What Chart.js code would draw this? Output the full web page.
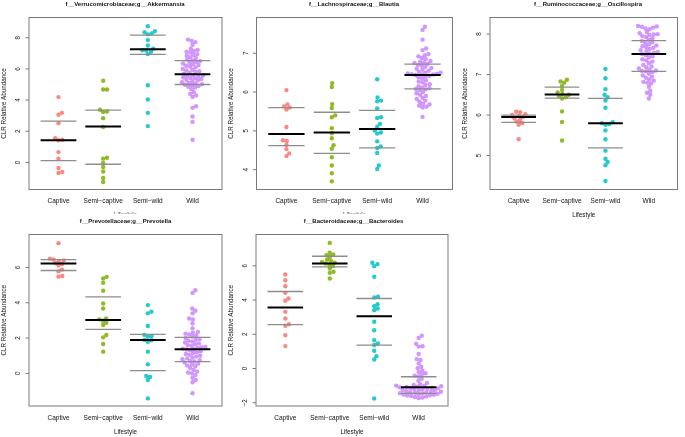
<!DOCTYPE html>
<html>
<head>
<meta charset="utf-8">
<script src="https://cdn.jsdelivr.net/npm/chart.js@4.4.1/dist/chart.umd.min.js"></script>
<style>
  body { margin: 0; background: #fff; }
  canvas { position: absolute; left: 0; top: 0; }
</style>
</head>
<body>
<canvas id="p1" width="685" height="437"></canvas>
<canvas id="p2" width="685" height="437"></canvas>
<canvas id="p3" width="685" height="437"></canvas>
<canvas id="p4" width="685" height="437"></canvas>
<canvas id="p5" width="685" height="437"></canvas>
<script>
const groupLabels = ['Captive', 'Semi\u2212captive', 'Semi\u2212wild', 'Wild'];
const groupColors = ['rgba(248,118,109,0.85)', 'rgba(124,174,0,0.85)', 'rgba(0,191,196,0.85)', 'rgba(199,124,255,0.8)'];
const yAxisTitle = 'CLR Relative Abundance';
const xAxisTitle = 'Lifestyle';

// f__Verrucomicrobiaceae;g__Akkermansia
const akkCaptive = [4.19, 3.18, 3.06, 2.52, 1.55, 1.45, 1.42, 0.66, 0.24, -0.36, -0.62, -0.68];
const akkSemiCaptive = [5.24, 4.68, 4.68, 3.38, 3.27, 3.23, 2.84, 2.27, 0.3, 0.24, -0.04, -0.3, -0.58, -1.0, -1.26];
const akkSemiWild = [8.74, 8.42, 8.35, 8.28, 8.22, 7.85, 7.5, 7.3, 7.2, 7.18, 7.1, 6.95, 4.95, 4.04, 3.18, 2.33];
const akkWild = [7.88, 7.8, 7.72, 7.55, 7.3, 7.22, 7.15, 7.1, 7.05, 6.95, 6.9, 6.85, 6.75, 6.7, 6.6, 6.55, 6.5,
  6.45, 6.4, 6.35, 6.3, 6.25, 6.2, 6.15, 6.1, 6.0, 5.95, 5.9, 5.85, 5.8, 5.75, 5.7, 5.62, 5.58, 5.55, 5.5,
  5.45, 5.42, 5.4, 5.35, 5.3, 5.25, 5.2, 5.15, 5.1, 5.05, 5.02, 4.98, 4.95, 4.9, 4.85, 4.8, 4.7, 4.5, 4.4,
  4.3, 4.2, 3.6, 3.5, 2.95, 2.6, 1.45];
const akkMean = [1.42, 2.3, 7.27, 5.65];
const akkUpper = [2.65, 3.35, 8.17, 6.53];
const akkLower = [0.11, -0.12, 6.93, 5.0];
const akkTicks = [0, 2, 4, 6, 8];

// f__Lachnospiraceae;g__Blautia
const blaCaptive = [6.05, 5.68, 5.63, 5.6, 5.55, 5.1, 4.76, 4.74, 4.64, 4.53, 4.42, 4.35];
const blaSemiCaptive = [6.23, 6.13, 5.69, 5.59, 5.4, 5.35, 5.07, 4.94, 4.81, 4.63, 4.54, 4.32, 4.11, 3.91, 3.7];
const blaSemiWild = [6.33, 5.86, 5.78, 5.76, 5.58, 5.35, 5.33, 5.18, 5.11, 5.01, 4.96, 4.93, 4.73, 4.6, 4.56, 4.43, 4.11, 4.02];
const blaWild = [7.68, 7.6, 7.35, 7.12, 7.08, 6.98, 6.95, 6.92, 6.88, 6.85, 6.8, 6.78, 6.76, 6.75, 6.73,
  6.7, 6.68, 6.65, 6.62, 6.6, 6.58, 6.55, 6.52, 6.5, 6.5, 6.48, 6.47, 6.46, 6.45, 6.45,
  6.44, 6.42, 6.4, 6.38, 6.35, 6.3, 6.27, 6.25, 6.2, 6.18, 6.15, 6.12, 6.1, 6.08, 6.07,
  6.05, 6.0, 5.97, 5.93, 5.9, 5.85, 5.82, 5.78, 5.75, 5.7, 5.68, 5.65, 5.62, 5.6, 5.36];
const blaMean = [4.92, 4.96, 5.05, 6.44];
const blaUpper = [5.6, 5.48, 5.53, 6.72];
const blaLower = [4.62, 4.42, 4.56, 6.08];
const blaTicks = [4, 5, 6, 7];

// f__Ruminococcaceae;g__Oscillospira
const oscCaptive = [6.08, 6.07, 6.02, 6.0, 5.98, 5.95, 5.92, 5.88, 5.84, 5.8, 5.76, 5.4];
const oscSemiCaptive = [6.87, 6.83, 6.8, 6.72, 6.62, 6.56, 6.52, 6.5, 6.47, 6.44, 6.41, 6.09, 5.83, 5.37];
const oscSemiWild = [7.14, 6.91, 6.64, 6.5, 6.44, 6.36, 6.18, 5.82, 5.8, 5.78, 5.76, 5.62, 5.4, 5.12, 4.92, 4.84, 4.76, 4.37];
const oscWild = [8.2, 8.19, 8.18, 8.16, 8.14, 8.12, 8.05, 8.02, 8.0, 7.99, 7.98, 7.95, 7.93, 7.9, 7.86,
  7.83, 7.8, 7.78, 7.75, 7.72, 7.7, 7.68, 7.66, 7.63, 7.6, 7.58, 7.56, 7.54, 7.52, 7.51,
  7.48, 7.45, 7.42, 7.38, 7.35, 7.32, 7.28, 7.24, 7.2, 7.18, 7.15, 7.12, 7.1, 7.09, 7.08,
  7.06, 7.02, 6.98, 6.95, 6.92, 6.88, 6.85, 6.82, 6.8, 6.78, 6.7, 6.6, 6.55, 6.5, 6.41];
const oscMean = [5.95, 6.51, 5.8, 7.51];
const oscUpper = [6.0, 6.69, 6.41, 7.84];
const oscLower = [5.82, 6.42, 5.19, 7.08];
const oscTicks = [5, 6, 7, 8];

// f__Prevotellaceae;g__Prevotella
const prevCaptive = [7.38, 6.5, 6.45, 6.4, 6.35, 6.25, 6.2, 6.12, 5.88, 5.78, 5.52, 5.48];
const prevSemiCaptive = [5.47, 5.38, 5.13, 4.68, 3.96, 3.68, 3.11, 3.06, 2.98, 2.87, 2.74, 2.17, 2.04, 1.66, 1.23];
const prevSemiWild = [3.87, 3.49, 3.4, 2.68, 2.18, 2.12, 2.08, 1.9, 1.88, 1.79, 1.23, 0.51, -0.15, -0.2, -0.38, -1.42];
const prevWild = [4.71, 4.56, 3.68, 3.55, 3.4, 3.11, 3.05, 2.83, 2.55, 2.35, 2.3, 2.25, 2.2, 2.15, 2.08,
  2.0, 1.95, 1.9, 1.85, 1.8, 1.75, 1.7, 1.65, 1.6, 1.55, 1.5, 1.48, 1.45, 1.4, 1.37,
  1.35, 1.3, 1.25, 1.2, 1.15, 1.1, 1.05, 1.0, 0.95, 0.9, 0.85, 0.8, 0.75, 0.7, 0.67,
  0.62, 0.55, 0.5, 0.45, 0.4, 0.3, 0.2, 0.1, 0.05, 0.0, -0.1, -0.25, -0.38, -0.5, -1.13];
const prevMean = [6.22, 3.02, 1.89, 1.36];
const prevUpper = [6.45, 4.34, 2.21, 2.04];
const prevLower = [5.83, 2.49, 0.15, 0.66];
const prevTicks = [0, 2, 4, 6];

// f__Bacteroidaceae;g__Bacteroides
const bacCaptive = [5.49, 5.16, 4.81, 4.42, 4.09, 3.96, 3.31, 2.92, 2.59, 2.5, 1.95, 1.31];
const bacSemiCaptive = [7.34, 6.76, 6.66, 6.62, 6.53, 6.37, 6.29, 6.23, 6.18, 6.14, 6.08, 5.98, 5.84, 5.65, 5.59, 5.26];
const bacSemiWild = [6.18, 6.1, 5.98, 5.36, 4.19, 4.15, 3.76, 3.64, 3.51, 3.41, 2.73, 2.24, 1.66, 1.46, 1.37, 1.04, 0.72, 0.53, -1.75];
const bacWild = [1.92, 1.78, 1.45, 1.3, 1.28, 0.85, 0.55, 0.5, 0.3, 0.1, 0.02, -0.12, -0.2, -0.28, -0.35, -0.42, -0.47,
  -0.6, -0.72, -0.85, -0.92, -0.96, -1.0, -1.02, -1.04, -1.06, -1.08, -1.1, -1.12, -1.14, -1.16, -1.18,
  -1.2, -1.22, -1.25, -1.27, -1.3, -1.32, -1.34, -1.36, -1.38, -1.4, -1.42, -1.44, -1.46, -1.48, -1.5,
  -1.52, -1.54, -1.56, -1.58, -1.6, -1.63, -1.66, -1.7, -1.73];
const bacMean = [3.57, 6.14, 3.06, -1.09];
const bacUpper = [4.5, 6.56, 4.09, -0.48];
const bacLower = [2.57, 5.94, 1.37, -1.45];
const bacTicks = [-2, 0, 2, 4, 6];

const FONT = "'Liberation Sans', Arial, sans-serif";
const X_AXIS_H = 20;

const panels = [
  { id: 'p1', title: 'f__Verrucomicrobiaceae;g__Akkermansia', titleX: 125,
    box: { l: 29, t: 17.5, r: 222, b: 189.5 }, ymin: -1.74, ymax: 9.3, ticks: akkTicks,
    groups: [akkCaptive, akkSemiCaptive, akkSemiWild, akkWild], mean: akkMean, upper: akkUpper, lower: akkLower },
  { id: 'p2', title: 'f__Lachnospiraceae;g__Blautia', titleX: 354,
    box: { l: 256.5, t: 17.5, r: 452.5, b: 189.5 }, ymin: 3.49, ymax: 7.92, ticks: blaTicks,
    groups: [blaCaptive, blaSemiCaptive, blaSemiWild, blaWild], mean: blaMean, upper: blaUpper, lower: blaLower },
  { id: 'p3', title: 'f__Ruminococcaceae;g__Oscillospira', titleX: 588,
    box: { l: 490, t: 17.5, r: 677.5, b: 189.5 }, ymin: 4.16, ymax: 8.41, ticks: oscTicks,
    groups: [oscCaptive, oscSemiCaptive, oscSemiWild, oscWild], mean: oscMean, upper: oscUpper, lower: oscLower },
  { id: 'p4', title: 'f__Prevotellaceae;g__Prevotella', titleX: 125.5, cover: [0, 213.5, 228, 224],
    box: { l: 29, t: 234.5, r: 222, b: 406 }, ymin: -1.85, ymax: 7.87, ticks: prevTicks,
    groups: [prevCaptive, prevSemiCaptive, prevSemiWild, prevWild], mean: prevMean, upper: prevUpper, lower: prevLower },
  { id: 'p5', title: 'f__Bacteroidaceae;g__Bacteroides', titleX: 353.5, cover: [228, 213.5, 228, 224],
    box: { l: 256, t: 234.5, r: 448, b: 406 }, ymin: -2.19, ymax: 7.83, ticks: bacTicks,
    groups: [bacCaptive, bacSemiCaptive, bacSemiWild, bacWild], mean: bacMean, upper: bacUpper, lower: bacLower }
];

// R-style decorations: box, y ticks with rotated labels, titles
const rDecor = {
  id: 'rDecor',
  beforeDraw(chart) {
    const p = chart.options.plugins.rDecor;
    if (p.cover) {
      const c = chart.ctx;
      c.save();
      c.fillStyle = '#fff';
      c.fillRect(p.cover[0], p.cover[1], p.cover[2], p.cover[3]);
      c.restore();
    }
  },
  afterDraw(chart) {
    const p = chart.options.plugins.rDecor;
    const c = chart.ctx;
    const a = chart.chartArea;
    const y = chart.scales.y;
    c.save();
    c.strokeStyle = '#7a7a7a';
    c.lineWidth = 1;
    c.strokeRect(a.left, a.top, a.right - a.left, a.bottom - a.top);

    c.fillStyle = '#111';
    c.font = `6.3px ${FONT}`;
    c.textAlign = 'center';
    c.textBaseline = 'middle';
    p.ticks.forEach(v => {
      const py = y.getPixelForValue(v);
      c.beginPath();
      c.moveTo(a.left, py);
      c.lineTo(a.left - 3.5, py);
      c.stroke();
      c.save();
      c.translate(a.left - 10.5, py);
      c.rotate(-Math.PI / 2);
      c.fillText(String(v).replace('-', '\u2212'), 0, 0);
      c.restore();
    });

    // y axis title
    c.save();
    c.translate(a.left - 25, (a.top + a.bottom) / 2);
    c.rotate(-Math.PI / 2);
    c.fillText(yAxisTitle, 0, 0);
    c.restore();

    // x axis title
    c.fillText(xAxisTitle, (a.left + a.right) / 2, a.bottom + 26);

    // panel title
    c.font = `bold 6px ${FONT}`;
    c.fillText(p.title, p.titleX, a.top - 13);
    c.restore();
  }
};

// beeswarm placement in pixel space (closest free spot to the centre)
function swarmOffsets(ys, d) {
  const order = ys.map((v, i) => i).sort((i, j) => ys[j] - ys[i]);
  const placed = [];
  const out = new Array(ys.length).fill(0);
  order.forEach(i => {
    const yi = ys[i];
    const near = placed.filter(q => Math.abs(q.y - yi) < d);
    const cands = [0];
    near.forEach(q => {
      const dx = Math.sqrt(d * d - (q.y - yi) * (q.y - yi));
      cands.push(q.x + dx, q.x - dx);
    });
    cands.sort((u, w) => Math.abs(u) - Math.abs(w) || w - u);
    const x = cands.find(cx => near.every(q => (q.x - cx) ** 2 + (q.y - yi) ** 2 >= d * d - 0.01));
    out[i] = x;
    placed.push({ x: x, y: yi });
  });
  return out;
}

function makePanel(p) {
  const datasets = [];
  const segs = [
    { vals: p.lower, color: '#8d8d8d', width: 1.3 },
    { vals: p.upper, color: '#8d8d8d', width: 1.3 },
    { vals: p.mean, color: '#000000', width: 2 }
  ];
  segs.forEach((s, k) => {
    s.vals.forEach((v, i) => {
      datasets.push({
        type: 'line',
        data: [{ x: i + 1 - 0.4, y: v }, { x: i + 1 + 0.4, y: v }],
        borderColor: s.color,
        borderWidth: s.width,
        pointRadius: 0,
        order: 2 - k
      });
    });
  });
  p.groups.forEach((vals, i) => {
    datasets.push({
      type: 'scatter',
      data: vals.map(v => ({ x: i + 1, y: v })),
      backgroundColor: groupColors[i],
      borderWidth: 0,
      pointRadius: 2.2,
      order: 5,
      swarm: true
    });
  });

  const chart = new Chart(document.getElementById(p.id), {
    type: 'scatter',
    data: { datasets },
    options: {
      responsive: false,
      animation: false,
      devicePixelRatio: 1,
      events: [],
      layout: {
        padding: { left: p.box.l, top: p.box.t, right: 685 - p.box.r, bottom: 437 - p.box.b - X_AXIS_H }
      },
      scales: {
        x: {
          type: 'linear', min: 0.34, max: 4.66,
          grid: { display: false, drawTicks: false },
          border: { display: false },
          afterBuildTicks: s => { s.ticks = [1, 2, 3, 4].map(v => ({ value: v })); },
          afterFit: s => { s.height = X_AXIS_H; },
          ticks: {
            autoSkip: false, maxRotation: 0, minRotation: 0, padding: 8,
            color: '#111', font: { family: FONT, size: 6.5 },
            callback: (v, idx) => groupLabels[idx]
          }
        },
        y: {
          type: 'linear', min: p.ymin, max: p.ymax,
          grid: { display: false, drawTicks: false },
          border: { display: false },
          ticks: { display: false },
          afterFit: s => { s.width = 0; }
        }
      },
      plugins: {
        legend: { display: false },
        tooltip: { enabled: false },
        rDecor: { title: p.title, titleX: p.titleX, ticks: p.ticks, cover: p.cover }
      }
    },
    plugins: [rDecor]
  });

  // spread points sideways like beeswarm, using the chart's own scales
  const xs = chart.scales.x, ys = chart.scales.y;
  const pxPerX = xs.getPixelForValue(2) - xs.getPixelForValue(1);
  chart.data.datasets.forEach(ds => {
    if (!ds.swarm) return;
    const py = ds.data.map(pt => ys.getPixelForValue(pt.y));
    const off = swarmOffsets(py, 3.9);
    ds.data = ds.data.map((pt, i) => ({ x: pt.x + off[i] / pxPerX, y: pt.y }));
  });
  chart.update();
}

panels.forEach(makePanel);
</script>
</body>
</html>
